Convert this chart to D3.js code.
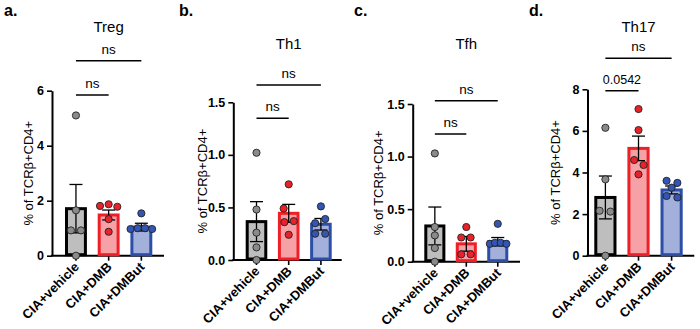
<!DOCTYPE html>
<html lang="en">
<head>
    <meta charset="UTF-8">
    <title>CIA T cell subsets</title>
    <script src="https://d3js.org/d3.v7.min.js"></script>
    <style>
        body { margin: 0; background: #fff; }
        text { font-family: "Liberation Sans", Arial, sans-serif; }
    </style>
</head>
<body>
    <svg width="700" height="329"></svg>

    <script>
        // groups, titles and ticks
        const groups = ["CIA+vehicle", "CIA+DMB", "CIA+DMBut"];
        const letters = ["a.", "b.", "c.", "d."];
        const titles = ["Treg", "Th1", "Tfh", "Th17"];
        const yTicks = [[0, 2, 4, 6], [0, 0.5, 1, 1.5], [0, 0.5, 1, 1.5], [0, 2, 4, 6, 8]];
        const yLabel = "% of TCRβ+CD4+";
        // significance labels: [vehicle vs DMBut, vehicle vs DMB]
        const sigLabels = [["ns", "ns"], ["ns", "ns"], ["ns", "ns"], ["ns", "0.0542"]];

        // individual animals
        const tregPoints = [[5.1, 1.65, 0.92, 0.92, 0], [1.81, 1.87, 1.78, 1.33, 0.87], [1.54, 0.97, 1.0, 1.0, 0.97]];
        const th1Points = [[1.02, 0.48, 0.26, 0.12, 0], [0.72, 0.49, 0.37, 0.36, 0.24], [0.51, 0.39, 0.35, 0.25, 0.25]];
        const tfhPoints = [[1.03, 0.33, 0.25, 0.13, 0], [0.33, 0.23, 0.23, 0.07, 0.07], [0.36, 0.17, 0.18, 0.18, 0.17]];
        const th17Points = [[6.15, 3.67, 2.16, 2.12, 0], [7.05, 6.04, 4.6, 4.36, 3.91], [3.6, 3.5, 3.27, 2.87, 2.8]];

        // horizontal scatter offsets, in dot diameters
        const tregJitter = [[0, 0, -0.7, 0.7, 0], [-1.2, 0, 1.2, 0, 0], [0, -1.5, -0.5, 0.5, 1.5]];
        const th1Jitter = [[0, 0, 0, 0, 0], [0, -0.7, 0.7, -0.6, 0], [0, 0.6, -0.8, -0.8, 0.6]];
        const tfhJitter = [[0, 0, 0, 0, 0], [0, -0.7, 0.6, -0.7, 0.6], [0, -1.1, -0.4, 0.4, 1.2]];
        const th17Jitter = [[0, 0, -0.8, 0.7, 0], [0, 0, -0.6, 0.7, 0], [-0.7, 0.8, 0, -0.7, 0.8]];

        // bar heights (mean) and error bars (SEM)
        const tregMean = [1.71, 1.48, 1.04];
        const tregSem = [0.88, 0.18, 0.14];
        const th1Mean = [0.365, 0.444, 0.34];
        const th1Sem = [0.19, 0.085, 0.055];
        const tfhMean = [0.34, 0.17, 0.19];
        const tfhSem = [0.18, 0.07, 0.04];
        const th17Mean = [2.8, 5.16, 3.16];
        const th17Sem = [1.03, 0.59, 0.19];

        const panelPoints = [tregPoints, th1Points, tfhPoints, th17Points];
        const panelJitter = [tregJitter, th1Jitter, tfhJitter, th17Jitter];
        const panelMean = [tregMean, th1Mean, tfhMean, th17Mean];
        const panelSem = [tregSem, th1Sem, tfhSem, th17Sem];

        // layout of each panel
        const frames = [
            {left: 0,   axisX: 52,    xEnd: 164,   bars: [65, 152.3],    yTop: 90.7,  yBottom: 255.7, titleY: 32, upperY: 60.7,  lowerY: 95,    labelX: 33,  decimals: 0},
            {left: 175, axisX: 233.3, xEnd: 341.7, bars: [245.7, 331.7], yTop: 102.3, yBottom: 260,   titleY: 49, upperY: 85,    lowerY: 118.3, labelX: 207, decimals: 1},
            {left: 350, axisX: 412.7, xEnd: 520,   bars: [424.3, 508.3], yTop: 104,   yBottom: 261.7, titleY: 49, upperY: 100.7, lowerY: 134,   labelX: 383, decimals: 1},
            {left: 525, axisX: 587.5, xEnd: 694.3, bars: [594.3, 682.7], yTop: 89.3,  yBottom: 255.7, titleY: 32, upperY: 58.3,  lowerY: 90.7,  labelX: 560, decimals: 0}
        ];

        const barFill = ["#bebebe", "#f5a1a6", "#a2b0db"];
        const barStroke = ["#000000", "#ee1f27", "#2c4ea7"];
        const dotFill = ["#8a8a8a", "#e8222b", "#3356b6"];
        const dotR = 3.6;

        const svg = d3.select("svg");
        svg.append("rect").attr("width", 700).attr("height", 329).attr("fill", "#fff");

        frames.forEach((f, p) => {
            const g = svg.append("g");

            const x = d3.scaleBand()
                .domain(groups)
                .range(f.bars)
                .paddingInner(0.33)
                .paddingOuter(0);

            const y = d3.scaleLinear()
                .domain([0, d3.max(yTicks[p])])
                .range([f.yBottom, f.yTop]);

            // panel letter
            g.append("text")
                .attr("x", f.left + 4)
                .attr("y", 16)
                .text(letters[p])
                .style("font-size", "16px")
                .style("font-weight", "bold");

            // title
            g.append("text")
                .attr("text-anchor", "middle")
                .attr("x", (f.bars[0] + f.bars[1]) / 2)
                .attr("y", f.titleY)
                .text(titles[p])
                .style("font-size", "15px");

            // y axis
            const yAxis = g.append("g")
                .attr("transform", `translate(${f.axisX},0)`)
                .call(d3.axisLeft(y)
                    .tickValues(yTicks[p])
                    .tickSize(5)
                    .tickSizeOuter(0)
                    .tickPadding(3)
                    .tickFormat(d3.format(`.${f.decimals}f`)));
            yAxis.select(".domain").attr("stroke-width", 2);
            yAxis.selectAll(".tick line").attr("stroke-width", 1.6);
            yAxis.selectAll("text")
                .style("font-family", "'Liberation Sans', Arial, sans-serif")
                .style("font-size", "12.5px")
                .style("font-weight", "bold")
                .attr("fill", "#000");

            // x axis: ticks from the band scale, baseline drawn across
            const xAxis = g.append("g")
                .attr("transform", `translate(0,${f.yBottom})`)
                .call(d3.axisBottom(x).tickSize(5).tickFormat(""));
            xAxis.select(".domain").remove();
            xAxis.selectAll(".tick line").attr("stroke-width", 1.6);
            g.append("line")
                .attr("x1", f.axisX - 1)
                .attr("x2", f.xEnd)
                .attr("y1", f.yBottom)
                .attr("y2", f.yBottom)
                .attr("stroke", "#000")
                .attr("stroke-width", 2);

            // group labels
            g.selectAll(".xlab")
                .data(groups)
                .enter()
                .append("text")
                .attr("text-anchor", "end")
                .attr("transform", d => `translate(${x(d) + x.bandwidth() / 2 + 4},${f.yBottom + 12}) rotate(-45)`)
                .text(d => d)
                .style("font-size", "13px")
                .style("font-weight", "bold");

            // y label
            g.append("text")
                .attr("text-anchor", "middle")
                .attr("transform", `translate(${f.labelX},${(f.yTop + f.yBottom) / 2}) rotate(-90)`)
                .text(yLabel)
                .style("font-size", "13px");

            const means = panelMean[p];
            const sems = panelSem[p];

            // bars
            g.selectAll(".bar")
                .data(groups)
                .enter()
                .append("rect")
                .attr("x", d => x(d) + 1.5)
                .attr("width", x.bandwidth() - 3)
                .attr("y", (d, i) => y(means[i]))
                .attr("height", (d, i) => y(0) - y(means[i]) - 1)
                .attr("fill", (d, i) => barFill[i])
                .attr("stroke", (d, i) => barStroke[i])
                .attr("stroke-width", 3);

            // error bars
            groups.forEach((grp, i) => {
                const cx = x(grp) + x.bandwidth() / 2;
                const lo = y(means[i] - sems[i]);
                const hi = y(means[i] + sems[i]);
                const eg = g.append("g").attr("stroke", "#000").attr("stroke-width", 1.3);
                eg.append("line").attr("x1", cx).attr("x2", cx).attr("y1", lo).attr("y2", hi);
                eg.append("line").attr("x1", cx - 6.5).attr("x2", cx + 6.5).attr("y1", hi).attr("y2", hi);
                eg.append("line").attr("x1", cx - 6.5).attr("x2", cx + 6.5).attr("y1", lo).attr("y2", lo);
            });

            // individual points
            groups.forEach((grp, i) => {
                const cx = x(grp) + x.bandwidth() / 2;
                g.selectAll(null)
                    .data(panelPoints[p][i])
                    .enter()
                    .append("circle")
                    .attr("cx", (d, k) => cx + panelJitter[p][i][k] * dotR * 2)
                    .attr("cy", d => y(d))
                    .attr("r", dotR)
                    .attr("fill", dotFill[i])
                    .attr("stroke", "#222")
                    .attr("stroke-width", 0.9);
            });

            // significance brackets
            const c0 = x(groups[0]) + x.bandwidth() / 2;
            const brackets = [
                {x2: x(groups[2]) + x.bandwidth() / 2, yy: f.upperY, label: sigLabels[p][0], size: "13.5px"},
                {x2: x(groups[1]) + x.bandwidth() / 2, yy: f.lowerY, label: sigLabels[p][1], size: sigLabels[p][1] === "ns" ? "13.5px" : "12.5px"}
            ];
            brackets.forEach(b => {
                g.append("line")
                    .attr("x1", c0)
                    .attr("x2", b.x2)
                    .attr("y1", b.yy)
                    .attr("y2", b.yy)
                    .attr("stroke", "#000")
                    .attr("stroke-width", 1.5);
                g.append("text")
                    .attr("text-anchor", "middle")
                    .attr("x", (c0 + b.x2) / 2)
                    .attr("y", b.yy - 7)
                    .text(b.label)
                    .style("font-size", b.size);
            });
        });
    </script>
</body>
</html>
